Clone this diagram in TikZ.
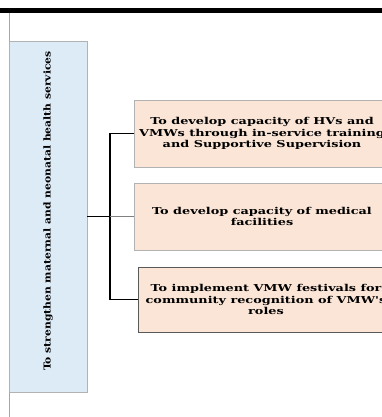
\documentclass[tikz,border=0pt]{standalone}
\usepackage{fontspec}
\setmainfont{DejaVu Serif}
\newfontfamily\wideserif[FakeStretch=1.35]{DejaVu Serif}
\newfontfamily\condserif[FakeStretch=1.26]{DejaVu Serif Condensed}
\definecolor{goalblue}{RGB}{221,235,247}
\definecolor{objpeach}{RGB}{251,229,214}
\begin{document}
\begin{tikzpicture}[x=1pt,y=-1pt,
  goalbox/.style={draw=black!30, line width=0.8pt, fill=goalblue, minimum width=78pt, minimum height=351pt, inner sep=0pt},
  objbox/.style={draw=black!30, line width=0.8pt, fill=objpeach, minimum width=256pt, minimum height=67pt, align=center, inner sep=0pt, font=\wideserif\bfseries\fontsize{9.5}{11.5}\selectfont},
  link/.style={line width=1.2pt, black}]
\useasboundingbox (0,0) rectangle (382,417);
\clip (0,0) rectangle (382,417);
% page rule and margin line
\fill[black] (0,8) rectangle (382,13);
\draw[black!35, line width=0.8pt] (9.5,13) -- (9.5,417);
% goal
\node[goalbox] (goal) at (48,216.5) {};
\node[rotate=90, font=\condserif\bfseries\fontsize{9.5}{11}\selectfont] (goaltext) at (48,211) {To strengthen maternal and neonatal health services};
% objectives
\node[objbox] (o1) at (262,133.5) {To develop capacity of HVs and\\VMWs through in-service training\\and Supportive Supervision};
\node[objbox] (o2) at (262,216.5) {To develop capacity of medical\\facilities};
\node[objbox, draw=black!65, minimum height=65pt] (o3) at (266,299.5) {To implement VMW festivals for\\community recognition of VMW's\\roles};
% connectors
\coordinate (j) at (110,216.5);
\draw[link] (goal.east) -- (j);
\draw[link] (j) |- (o1.west);
\draw[black!50, line width=0.8pt] (j) -- (o2.west);
\draw[link] (j) |- (o3.west);
\end{tikzpicture}
\end{document}
